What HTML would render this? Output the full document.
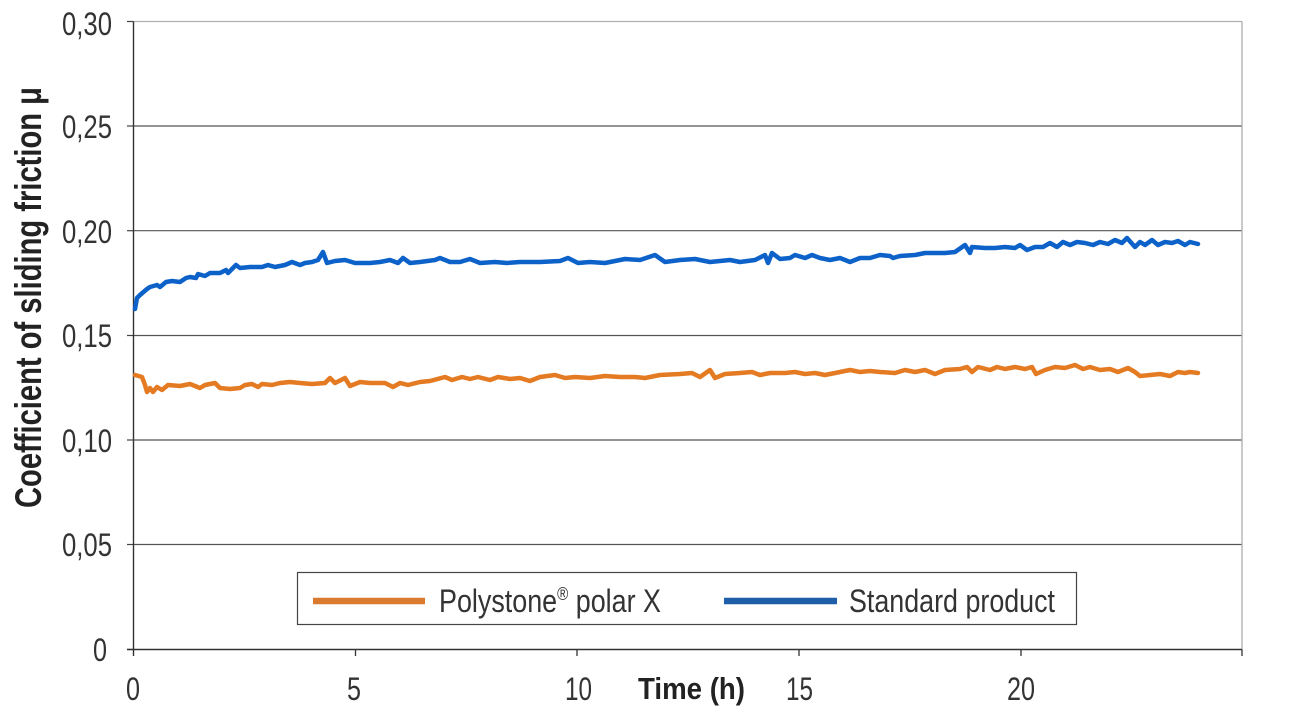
<!DOCTYPE html>
<html>
<head>
<meta charset="utf-8">
<style>
  html, body { margin: 0; padding: 0; background: #ffffff; }
  body { width: 1297px; height: 714px; overflow: hidden; }
  svg { display: block; }
  text { font-family: "Liberation Sans", "DejaVu Sans", sans-serif; }
</style>
</head>
<body>
<svg width="1297" height="714" viewBox="0 0 1297 714" xmlns="http://www.w3.org/2000/svg">
  <rect x="0" y="0" width="1297" height="714" fill="#ffffff"/>

  <!-- gridlines -->
  <line x1="133.5" y1="21.5" x2="1242" y2="21.5" stroke="#b0b0b0" stroke-width="1.2"/>
  <line x1="133.5" y1="126" x2="1242" y2="126" stroke="#555" stroke-width="1.2"/>
  <line x1="133.5" y1="230.7" x2="1242" y2="230.7" stroke="#555" stroke-width="1.2"/>
  <line x1="133.5" y1="335.5" x2="1242" y2="335.5" stroke="#555" stroke-width="1.2"/>
  <line x1="133.5" y1="440" x2="1242" y2="440" stroke="#555" stroke-width="1.2"/>
  <line x1="133.5" y1="544.5" x2="1242" y2="544.5" stroke="#555" stroke-width="1.2"/>
  <!-- right border -->
  <line x1="1242" y1="21.5" x2="1242" y2="650" stroke="#a8a8a8" stroke-width="1.2"/>

  <!-- y tick marks -->
  <g stroke="#444" stroke-width="1.2">
    <line x1="127" y1="21.5" x2="133.5" y2="21.5"/>
    <line x1="127" y1="126" x2="133.5" y2="126"/>
    <line x1="127" y1="230.7" x2="133.5" y2="230.7"/>
    <line x1="127" y1="335.5" x2="133.5" y2="335.5"/>
    <line x1="127" y1="440" x2="133.5" y2="440"/>
    <line x1="127" y1="544.5" x2="133.5" y2="544.5"/>
    <line x1="127" y1="649.5" x2="133.5" y2="649.5"/>
  </g>

  <!-- axes -->
  <line x1="133.5" y1="21.5" x2="133.5" y2="656" stroke="#333" stroke-width="1.4"/>
  <line x1="127" y1="649.5" x2="1242" y2="649.5" stroke="#333" stroke-width="1.4"/>
  <!-- x tick marks -->
  <g stroke="#333" stroke-width="1.3">
    <line x1="355.5" y1="649.5" x2="355.5" y2="656"/>
    <line x1="577" y1="649.5" x2="577" y2="656"/>
    <line x1="799" y1="649.5" x2="799" y2="656"/>
    <line x1="1021" y1="649.5" x2="1021" y2="656"/>
    <line x1="1242" y1="649.5" x2="1242" y2="656"/>
  </g>

  <!-- y tick labels -->
  <g font-size="32" fill="#333">
    <text x="112" y="35" text-anchor="end" textLength="50" lengthAdjust="spacingAndGlyphs">0,30</text>
    <text x="112" y="138" text-anchor="end" textLength="50" lengthAdjust="spacingAndGlyphs">0,25</text>
    <text x="112" y="243" text-anchor="end" textLength="50" lengthAdjust="spacingAndGlyphs">0,20</text>
    <text x="112" y="347" text-anchor="end" textLength="50" lengthAdjust="spacingAndGlyphs">0,15</text>
    <text x="112" y="452" text-anchor="end" textLength="50" lengthAdjust="spacingAndGlyphs">0,10</text>
    <text x="112" y="556" text-anchor="end" textLength="50" lengthAdjust="spacingAndGlyphs">0,05</text>
    <text x="93" y="661" textLength="14" lengthAdjust="spacingAndGlyphs">0</text>
  </g>

  <!-- x tick labels -->
  <g font-size="32" fill="#333">
    <text x="126" y="700" textLength="14" lengthAdjust="spacingAndGlyphs">0</text>
    <text x="347" y="700" textLength="14" lengthAdjust="spacingAndGlyphs">5</text>
    <text x="565" y="700" textLength="27" lengthAdjust="spacingAndGlyphs">10</text>
    <text x="786" y="700" textLength="27" lengthAdjust="spacingAndGlyphs">15</text>
    <text x="1007" y="700" textLength="28" lengthAdjust="spacingAndGlyphs">20</text>
  </g>

  <!-- x axis title -->
  <text x="638" y="699" font-size="31" font-weight="bold" fill="#222" textLength="107" lengthAdjust="spacingAndGlyphs">Time (h)</text>

  <!-- y axis title -->
  <text transform="translate(41,297.5) rotate(-90)" x="0" y="0" text-anchor="middle" font-size="37" font-weight="bold" fill="#222" textLength="421" lengthAdjust="spacingAndGlyphs">Coefficient of sliding friction μ</text>

  <!-- Standard product (blue) -->
  <polyline fill="none" stroke="#0c62c8" stroke-width="4.5" stroke-linejoin="round" stroke-linecap="round"
    points="135,309 137,298 140,295 147,289 150,287 157,285 160,287 166,282 172,281 180,282 186,278 190,277 196,278 198,274 205,276 210,273 220,273 226,270 228,273 236,265 240,268 250,267 262,267 268,265 275,267 285,265 292,262 300,265 305,263 312,262 318,260 323,252 327,263 335,261 345,260 355,263 370,263 380,262 390,260 398,263 403,258 410,263 420,262 435,260 440,258 450,262 460,262 470,259 480,263 495,262 507,263 520,262 540,262 560,261 568,258 578,263 590,262 605,263 625,259 640,260 655,255 665,262 680,260 695,259 710,262 730,260 740,262 755,260 765,255 768,263 772,253 780,259 790,258 795,255 805,258 812,255 820,258 830,260 840,258 850,262 860,258 870,258 880,255 890,256 893,258 900,256 915,255 925,253 935,253 945,253 955,252 965,245 970,253 972,247 985,248 995,248 1005,247 1015,248 1020,245 1027,250 1035,247 1043,247 1050,243 1057,247 1063,242 1070,245 1077,242 1085,243 1093,245 1100,242 1108,244 1115,240 1122,243 1127,238 1135,247 1140,242 1145,245 1152,240 1158,245 1165,242 1172,243 1178,241 1185,245 1190,242 1198,244"/>

  <!-- Polystone polar X (orange) -->
  <polyline fill="none" stroke="#e47a22" stroke-width="4.5" stroke-linejoin="round" stroke-linecap="round"
    points="135,375 142,377 145,385 147,392 150,388 153,392 157,387 162,390 168,385 180,386 190,384 200,388 205,385 210,384 215,383 220,388 230,389 240,388 245,385 252,384 258,387 262,384 272,385 280,383 290,382 300,383 312,384 325,383 330,378 335,383 345,378 350,386 360,382 370,383 385,383 393,387 400,383 408,385 420,382 430,381 445,377 452,380 462,377 470,379 478,377 490,380 498,377 510,379 520,378 530,381 540,377 555,375 565,378 575,377 590,378 605,376 620,377 635,377 645,378 660,375 680,374 692,373 700,377 710,370 715,378 725,374 740,373 752,372 760,375 770,373 785,373 795,372 805,374 815,373 825,375 835,373 850,370 860,372 870,371 880,372 895,373 905,370 915,372 925,370 935,374 945,370 960,369 967,367 972,372 978,367 990,370 997,367 1005,369 1015,367 1025,369 1032,367 1036,374 1045,370 1055,367 1065,368 1075,365 1083,369 1090,367 1100,370 1110,369 1118,372 1128,368 1135,372 1140,376 1150,375 1160,374 1170,376 1178,372 1185,373 1190,372 1198,373"/>

  <!-- legend -->
  <rect x="297.5" y="572.5" width="779" height="52" fill="#ffffff" stroke="#444" stroke-width="1.2"/>
  <line x1="313" y1="601" x2="425" y2="601" stroke="#d97a2e" stroke-width="6.5"/>
  <text x="439" y="612" font-size="32" fill="#333" textLength="222" lengthAdjust="spacingAndGlyphs">Polystone<tspan font-size="18" dy="-12">®</tspan><tspan dy="12"> polar X</tspan></text>
  <line x1="724" y1="601" x2="837" y2="601" stroke="#1f5ea8" stroke-width="6.5"/>
  <text x="849" y="612" font-size="32" fill="#333" textLength="206" lengthAdjust="spacingAndGlyphs">Standard product</text>
</svg>
</body>
</html>
